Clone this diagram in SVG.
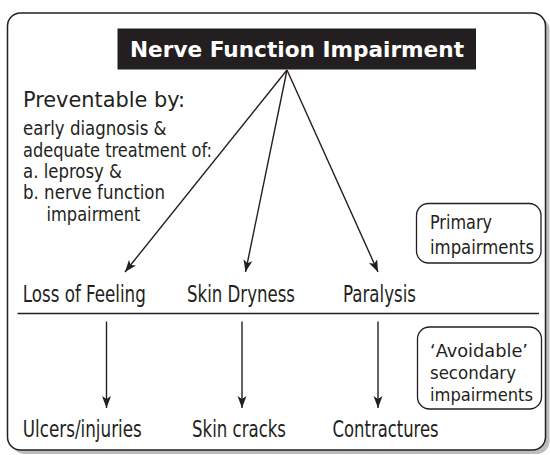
<svg xmlns="http://www.w3.org/2000/svg" width="550" height="455" viewBox="0 0 550 455">
<style>
.t{font-family:"DejaVu Sans Condensed","DejaVu Sans",sans-serif;fill:#231f20}
.s19{font-size:19px}.s21{font-size:21.5px}.s23{font-size:23px}.s20{font-size:20px}.s185{font-size:18.5px}
.ln{stroke:#231f20;stroke-width:1.4;fill:none}
.box{fill:#fff;stroke:#231f20;stroke-width:1.3}
</style>
<defs>
<marker id="ah" markerUnits="userSpaceOnUse" markerWidth="14" markerHeight="10" refX="12" refY="5" orient="auto">
<path d="M0,0.5 L12,5 L0,9.5 L3,5 Z" fill="#231f20"/>
</marker>
</defs>
<rect x="11.5" y="17" width="538" height="437" rx="13" fill="#bdbdbd"/>
<rect x="7.5" y="13" width="538" height="437" rx="13" fill="#fff" stroke="#231f20" stroke-width="1.5"/>
<g id="title">
<rect x="117.5" y="28.5" width="358.5" height="41" fill="#231f20"/>
<text x="130" y="57" font-family="DejaVu Sans,sans-serif" font-weight="bold" font-size="22" fill="#fff" textLength="334" lengthAdjust="spacingAndGlyphs">Nerve Function Impairment</text>
</g>
<g id="preventable">
<text class="t s21" x="23" y="107" textLength="162" lengthAdjust="spacingAndGlyphs">Preventable by:</text>
<text class="t s19" x="23" y="134.7" textLength="143.5" lengthAdjust="spacingAndGlyphs">early diagnosis &amp;</text>
<text class="t s19" x="23" y="156.5" textLength="189" lengthAdjust="spacingAndGlyphs">adequate treatment of:</text>
<text class="t s19" x="23" y="177.5" textLength="99" lengthAdjust="spacingAndGlyphs">a. leprosy &amp;</text>
<text class="t s19" x="23" y="199" textLength="142" lengthAdjust="spacingAndGlyphs">b. nerve function</text>
<text class="t s19" x="46.5" y="221" textLength="94" lengthAdjust="spacingAndGlyphs">impairment</text>
</g>
<g id="primary">
<rect class="box" x="416.5" y="203.5" width="124.5" height="59.5" rx="12"/>
<text class="t s20" x="430" y="229" textLength="62" lengthAdjust="spacingAndGlyphs">Primary</text>
<text class="t s20" x="430" y="254" textLength="104" lengthAdjust="spacingAndGlyphs">impairments</text>
</g>
<g id="secondary">
<rect class="box" x="417.5" y="327" width="124" height="82" rx="12"/>
<text class="t s185" x="430" y="357" textLength="98" lengthAdjust="spacingAndGlyphs">&#8216;Avoidable&#8217;</text>
<text class="t s185" x="430" y="379" textLength="86" lengthAdjust="spacingAndGlyphs">secondary</text>
<text class="t s185" x="430" y="401" textLength="103" lengthAdjust="spacingAndGlyphs">impairments</text>
</g>
<g id="loss"><text class="t s23" x="22.8" y="302" textLength="123" lengthAdjust="spacingAndGlyphs">Loss of Feeling</text></g>
<g id="dryness"><text class="t s23" x="187" y="302" textLength="108" lengthAdjust="spacingAndGlyphs">Skin Dryness</text></g>
<g id="paralysis"><text class="t s23" x="343" y="302" textLength="73" lengthAdjust="spacingAndGlyphs">Paralysis</text></g>
<g id="ulcers"><text class="t s23" x="22.8" y="436.5" textLength="119" lengthAdjust="spacingAndGlyphs">Ulcers/injuries</text></g>
<g id="cracks"><text class="t s23" x="192" y="436.5" textLength="94" lengthAdjust="spacingAndGlyphs">Skin cracks</text></g>
<g id="contractures"><text class="t s23" x="332.6" y="436.5" textLength="106" lengthAdjust="spacingAndGlyphs">Contractures</text></g>
<g id="connectors">
<line class="ln" x1="287" y1="70" x2="125" y2="272" marker-end="url(#ah)"/>
<line class="ln" x1="287" y1="70" x2="245.5" y2="272" marker-end="url(#ah)"/>
<line class="ln" x1="287" y1="70" x2="378" y2="272" marker-end="url(#ah)"/>
<line class="ln" x1="17.5" y1="313.5" x2="539" y2="313.5"/>
<line class="ln" x1="106.5" y1="321.5" x2="106.5" y2="408" marker-end="url(#ah)"/>
<line class="ln" x1="242" y1="321.5" x2="242" y2="408" marker-end="url(#ah)"/>
<line class="ln" x1="378" y1="321.5" x2="378" y2="408" marker-end="url(#ah)"/>
</g>
</svg>
